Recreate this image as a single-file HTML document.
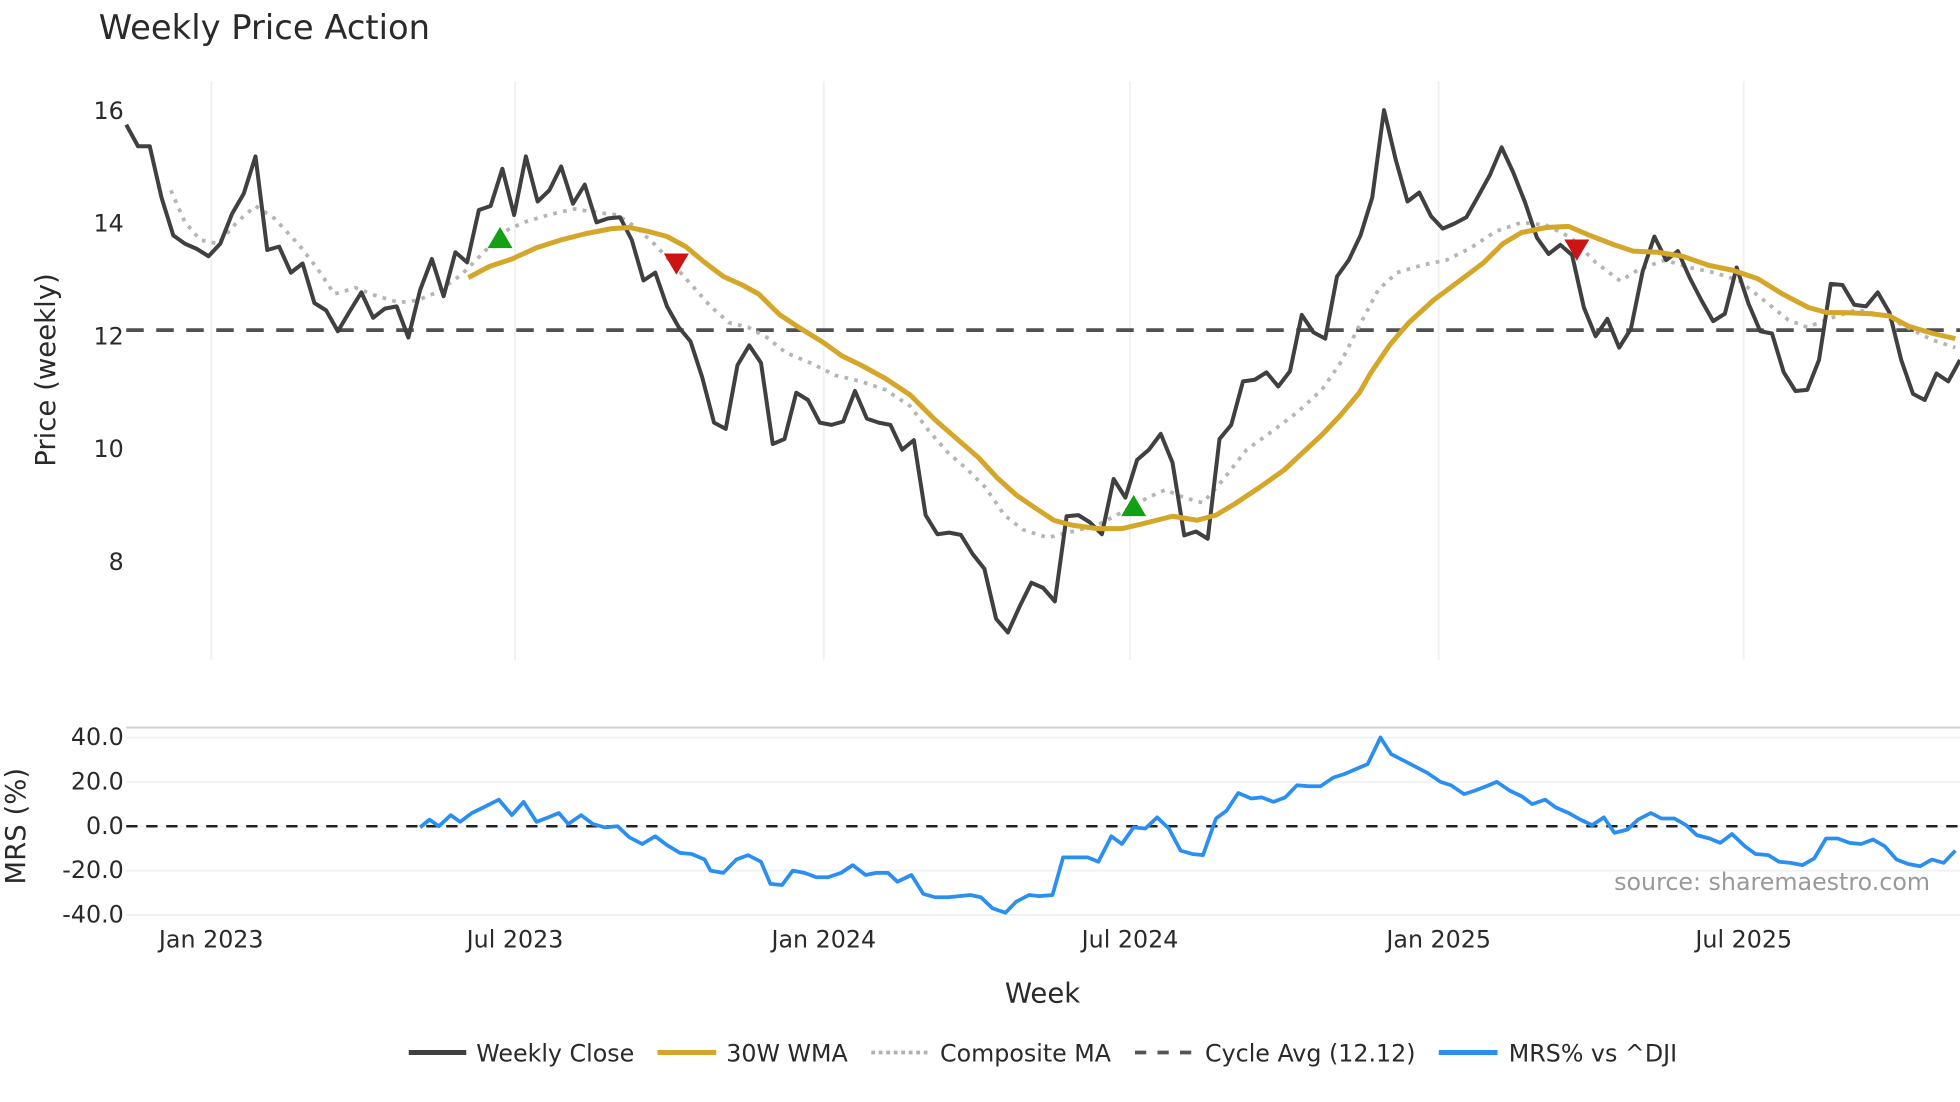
<!DOCTYPE html>
<html><head><meta charset="utf-8"><style>
html,body{margin:0;padding:0;background:#fff;}
svg{display:block;font-family:"DejaVu Sans","Liberation Sans",sans-serif;}
</style></head><body>
<svg id="chart" width="1960" height="1102" viewBox="0 0 1568 881.6" xmlns="http://www.w3.org/2000/svg">
<rect width="1568" height="881.6" fill="#fff"/>
<text x="79" y="31" font-size="27" fill="#2a2a2a">Weekly Price Action</text>
<g id="grid"></g>
<g id="price"></g>
<g id="mrs"></g>
<g id="axes"></g>
<text transform="translate(44,296) rotate(-90)" text-anchor="middle" font-size="22" fill="#2a2a2a">Price (weekly)</text>
<text transform="translate(20,661) rotate(-90)" text-anchor="middle" font-size="22" fill="#2a2a2a">MRS (%)</text>
<text x="834" y="802" text-anchor="middle" font-size="22" fill="#2a2a2a">Week</text>
<text x="1544" y="712" text-anchor="end" font-size="19" fill="#999">source: sharemaestro.com</text>
<g font-size="19" fill="#2a2a2a">
  <g><line x1="327" y1="842" x2="373" y2="842" stroke="#404040" stroke-width="4"/><text x="381" y="849">Weekly Close</text></g>
  <g><line x1="526" y1="842" x2="573" y2="842" stroke="#d4a62a" stroke-width="4"/><text x="581" y="849">30W WMA</text></g>
  <g><line x1="697" y1="842" x2="743" y2="842" stroke="#b0b0b0" stroke-width="3" stroke-dasharray="3,3"/><text x="752" y="849">Composite MA</text></g>
  <g><line x1="908" y1="842" x2="955" y2="842" stroke="#555" stroke-width="3" stroke-dasharray="9,9"/><text x="964" y="849">Cycle Avg (12.12)</text></g>
  <g><line x1="1151" y1="842" x2="1198" y2="842" stroke="#2a8ff0" stroke-width="4"/><text x="1207" y="849">MRS% vs ^DJI</text></g>
</g>
</svg>
<script>
const closeVals=[15.76,15.38,15.38,14.47,13.8,13.65,13.56,13.43,13.65,14.18,14.54,15.2,13.54,13.6,13.14,13.3,12.6,12.47,12.1,12.45,12.79,12.34,12.5,12.54,11.99,12.83,13.38,12.72,13.5,13.32,14.25,14.32,14.98,14.16,15.2,14.4,14.6,15.02,14.36,14.7,14.03,14.1,14.12,13.72,13.0,13.14,12.54,12.17,11.92,11.28,10.48,10.37,11.5,11.85,11.54,10.1,10.19,11.01,10.88,10.48,10.44,10.5,11.04,10.55,10.48,10.44,10.0,10.17,8.84,8.5,8.53,8.49,8.15,7.89,7.0,6.76,7.22,7.64,7.55,7.31,8.82,8.84,8.71,8.5,9.48,9.15,9.82,10.0,10.28,9.77,8.48,8.55,8.42,10.19,10.44,11.21,11.24,11.37,11.12,11.39,12.39,12.08,11.97,13.07,13.36,13.8,14.47,16.02,15.14,14.4,14.56,14.14,13.92,14.01,14.12,14.49,14.87,15.36,14.91,14.38,13.76,13.47,13.63,13.45,12.52,12.01,12.32,11.81,12.14,13.16,13.78,13.36,13.52,13.05,12.65,12.28,12.41,13.23,12.59,12.1,12.06,11.37,11.04,11.06,11.59,12.94,12.92,12.57,12.54,12.79,12.43,11.59,10.99,10.88,11.35,11.21,11.59];
const wmaWeeks=[29.1,30.9,32.8,34.9,37.0,39.1,41.3,42.8,44.4,46.0,47.6,49.2,50.8,52.4,53.8,55.6,57.2,59.3,60.9,62.5,64.6,66.7,68.8,70.9,72.5,74.1,75.7,77.3,78.9,80.5,82.6,84.7,86.9,89.0,91.1,92.7,94.3,96.4,98.5,100.1,101.7,103.3,104.9,105.9,107.5,109.1,111.2,113.4,115.5,117.1,118.7,120.8,122.7,124.5,126.6,128.2,130.3,132.4,134.6,136.7,138.8,140.9,143.1,144.7,146.2,148.4,150.0,151.6,153.7,155.6];
const wmaVals=[13.05,13.25,13.38,13.58,13.72,13.83,13.92,13.94,13.87,13.78,13.6,13.32,13.07,12.92,12.76,12.39,12.17,11.9,11.66,11.5,11.26,10.97,10.53,10.15,9.86,9.5,9.2,8.97,8.75,8.66,8.6,8.6,8.71,8.82,8.75,8.84,9.04,9.33,9.64,9.95,10.26,10.61,11.01,11.37,11.86,12.25,12.65,12.99,13.32,13.65,13.85,13.94,13.96,13.8,13.63,13.52,13.5,13.43,13.27,13.18,13.03,12.76,12.52,12.43,12.43,12.41,12.37,12.19,12.06,11.97];
const compWeeks=[3.8,5.0,6.3,7.8,9.4,11.0,12.6,14.7,16.3,17.7,19.5,21.1,23.2,24.8,26.4,28.5,30.6,32.2,33.8,35.9,38.1,40.2,41.8,43.4,45.0,46.6,48.1,49.7,51.3,52.9,54.5,56.1,58.2,60.3,62.5,64.6,66.7,68.3,69.9,71.5,73.1,74.7,76.3,78.4,80.5,82.6,84.7,86.9,88.4,90.0,91.6,93.2,95.3,97.5,99.6,101.7,103.3,104.9,106.5,108.1,110.2,112.3,114.4,116.5,118.7,120.8,122.9,125.0,127.1,128.7,130.9,133.0,135.1,137.2,139.3,141.4,143.0,145.1,147.2,149.3,151.5,153.6,155.6];
const compVals=[14.6,14.03,13.72,13.65,14.03,14.32,14.1,13.63,13.2,12.76,12.87,12.74,12.61,12.65,12.79,13.1,13.54,13.87,14.03,14.16,14.27,14.2,14.16,13.94,13.63,13.27,12.92,12.54,12.25,12.17,11.99,11.72,11.54,11.32,11.21,11.06,10.77,10.33,9.95,9.66,9.33,8.84,8.58,8.44,8.55,8.66,8.89,9.15,9.29,9.15,9.06,9.44,10.0,10.33,10.66,11.06,11.54,12.2,12.83,13.14,13.27,13.36,13.58,13.87,14.03,13.98,13.76,13.32,12.99,13.2,13.36,13.23,13.14,13.0,12.65,12.3,12.17,12.34,12.48,12.39,12.17,11.95,11.81];
const mrsWeeks=[25.0,25.8,26.6,27.6,28.4,29.4,30.2,31.7,32.8,33.8,34.9,35.9,36.8,37.6,38.7,39.7,40.7,41.8,42.8,43.9,45.0,46.0,47.1,48.1,49.2,49.7,50.8,51.9,52.9,54.0,54.8,55.8,56.7,57.7,58.7,59.7,60.8,61.8,62.9,63.8,64.8,65.6,66.8,67.8,68.8,69.9,70.9,71.8,72.7,73.7,74.8,75.7,76.8,77.7,78.8,79.7,80.8,81.8,82.7,83.8,84.7,85.7,86.7,87.7,88.7,89.7,90.7,91.6,92.7,93.6,94.6,95.7,96.6,97.6,98.6,99.6,100.6,101.6,102.7,103.6,104.7,105.6,106.7,107.6,108.7,109.8,110.7,111.8,112.7,113.8,114.7,115.7,116.6,117.7,118.7,119.6,120.7,121.6,122.7,123.7,124.7,125.7,126.6,127.7,128.6,129.7,130.6,131.7,132.7,133.6,134.7,135.6,136.6,137.7,138.6,139.7,140.6,141.6,142.6,143.6,144.6,145.6,146.6,147.6,148.6,149.6,150.6,151.6,152.6,153.6,154.6,155.6];
const mrsVals=[-0.5,3,0,5,2,6,8,12,5,11,2,4,6,1,5,1,-0.5,0,-5,-8,-4.5,-8.5,-12,-12.5,-15,-20,-21,-15,-13,-16,-26,-26.5,-20,-21,-23,-23,-21,-17.5,-22,-21,-21,-25,-22,-30.5,-32,-32,-31.5,-31,-32,-37,-39,-34,-31,-31.5,-31,-14,-14,-14,-16,-4.5,-8,-0.5,-1,4,-1,-11,-12.5,-13,3.5,7,15,12.5,13,11,13,18.5,18,18,22,23.5,26,28,40,32.5,29.5,26.5,24,20,18.5,14.5,16,18,20,16,13.5,10,12,8.5,6,3,0.5,4,-3,-1.5,3,6,3.5,3.5,0.5,-4,-5.5,-7.5,-3.5,-9,-12.5,-13,-16,-16.5,-17.5,-14.5,-5.5,-5.5,-7.5,-8,-6,-9,-15,-17,-18,-15,-16.5,-11];
const buyWeeks=[31.8,85.7];
const buyVals=[13.75,9.0];
const sellWeeks=[46.8,123.4];
const sellVals=[13.3,13.55];
const cycleAvg=12.12;
const priceTicks=[8,10,12,14,16];
const mrsTicks=[40,20,0,-20,-40];
const xTickWeeks=[7.23,33.07,59.34,85.39,111.65,137.6];
const xTickLabels=["Jan 2023","Jul 2023","Jan 2024","Jul 2024","Jan 2025","Jul 2025"];

const NS="http://www.w3.org/2000/svg";
const X=w=>101+w*9.404;
const YP=v=>89+(16-v)*45.125;
const YM=v=>661-v*1.775;
function mk(parent,tag,attrs){const e=document.createElementNS(NS,tag);for(const k in attrs)e.setAttribute(k,attrs[k]);document.getElementById(parent).appendChild(e);return e;}
function pts(ws,vs,yf){return ws.map((w,i)=>X(w).toFixed(1)+","+yf(vs[i]).toFixed(1)).join(" ");}

xTickWeeks.forEach((w,i)=>{
  const g=mk('grid','line',{x1:X(w),x2:X(w),y1:65,y2:528,stroke:'#eef1f5','stroke-width':1.5});
  
  
  const t=mk('axes','text',{x:X(w),y:758,'text-anchor':'middle','font-size':19,fill:'#2a2a2a'});
  t.textContent=xTickLabels[i];
  
  
});
priceTicks.forEach(v=>{
  const t=mk('axes','text',{x:99,y:YP(v)+6,'text-anchor':'end','font-size':19,fill:'#2a2a2a'});
  t.textContent=v;
  
  
});
const panelTop=mk('grid','line',{x1:101,x2:1568,y1:582,y2:582,stroke:'#cfcfcf','stroke-width':1.5});


mrsTicks.forEach(v=>{
  const g=mk('grid','line',{x1:101,x2:1568,y1:YM(v),y2:YM(v),stroke:'#eef1f5','stroke-width':1.5});
  
  
  const t=mk('axes','text',{x:99,y:YM(v)+6,'text-anchor':'end','font-size':19,fill:'#2a2a2a'});
  t.textContent=v.toFixed(1);
  
  
});

let el;
el=mk('price','line',{x1:101,x2:1568,y1:YP(cycleAvg),y2:YP(cycleAvg),stroke:'#505050','stroke-width':3,'stroke-dasharray':'14,10'});


el=mk('price','polyline',{points:pts(compWeeks,compVals,YP),fill:'none',stroke:'#b5b5b5','stroke-width':3,'stroke-dasharray':'3,5'});


el=mk('price','polyline',{points:pts(closeVals.map((v,i)=>i),closeVals,YP),fill:'none',stroke:'#404040','stroke-width':3.2,'stroke-linejoin':'round'});


el=mk('price','polyline',{points:pts(wmaWeeks,wmaVals,YP),fill:'none',stroke:'#d4a62a','stroke-width':4,'stroke-linejoin':'round'});


buyWeeks.forEach((w,i)=>{
  const x=X(w),y=YP(buyVals[i]);
  const m=mk('price','polygon',{points:`${x-10},${y+8} ${x+10},${y+8} ${x},${y-9}`,fill:'#14a014'});
  
  
});
sellWeeks.forEach((w,i)=>{
  const x=X(w),y=YP(sellVals[i]);
  const m=mk('price','polygon',{points:`${x-10},${y-8} ${x+10},${y-8} ${x},${y+9}`,fill:'#cc1414'});
  
  
});

el=mk('mrs','line',{x1:101,x2:1568,y1:YM(0),y2:YM(0),stroke:'#222','stroke-width':2,'stroke-dasharray':'9,7'});


el=mk('mrs','polyline',{points:pts(mrsWeeks,mrsVals,YM),fill:'none',stroke:'#2a8ff0','stroke-width':3,'stroke-linejoin':'round'});


</script>
</body></html>
